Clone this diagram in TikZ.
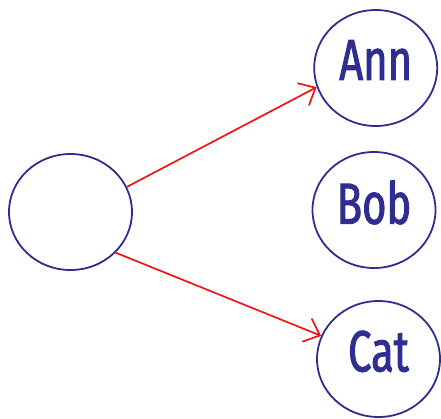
\documentclass[tikz,border=0pt]{standalone}
\usepackage{fontspec}
\setmainfont{Fira Sans}[FakeStretch=0.72, FakeBold=1.6]
\usetikzlibrary{shapes.geometric,arrows.meta}
\definecolor{ink}{RGB}{46,46,146}
\definecolor{wire}{RGB}{240,20,20}
\tikzset{
  person/.style={ellipse, draw=ink, line width=1.8pt, text=ink,
    minimum width=123pt, minimum height=116pt, inner sep=0pt,
    font=\fontsize{58}{58}\selectfont, text depth=16pt},
  link/.style={draw=wire, line width=1.7pt,
    -{Straight Barb[length=14pt,width=25pt,line width=1.7pt]}}
}
\begin{document}
\begin{tikzpicture}[x=1pt,y=-1pt]
  \useasboundingbox (0,0) rectangle (441,418);
  \node[person] (src) at (70.5,212) {};
  \node[person] (ann) at (375.7,68) {Ann};
  \node[person] (bob) at (374,210) {Bob};
  \node[person] (cat) at (378.5,359) {Cat};
  \draw[link] (src.24.6) -- (ann.198.8);
  \draw[link] (src.-42.2) -- (cat.158.5);
\end{tikzpicture}
\end{document}
